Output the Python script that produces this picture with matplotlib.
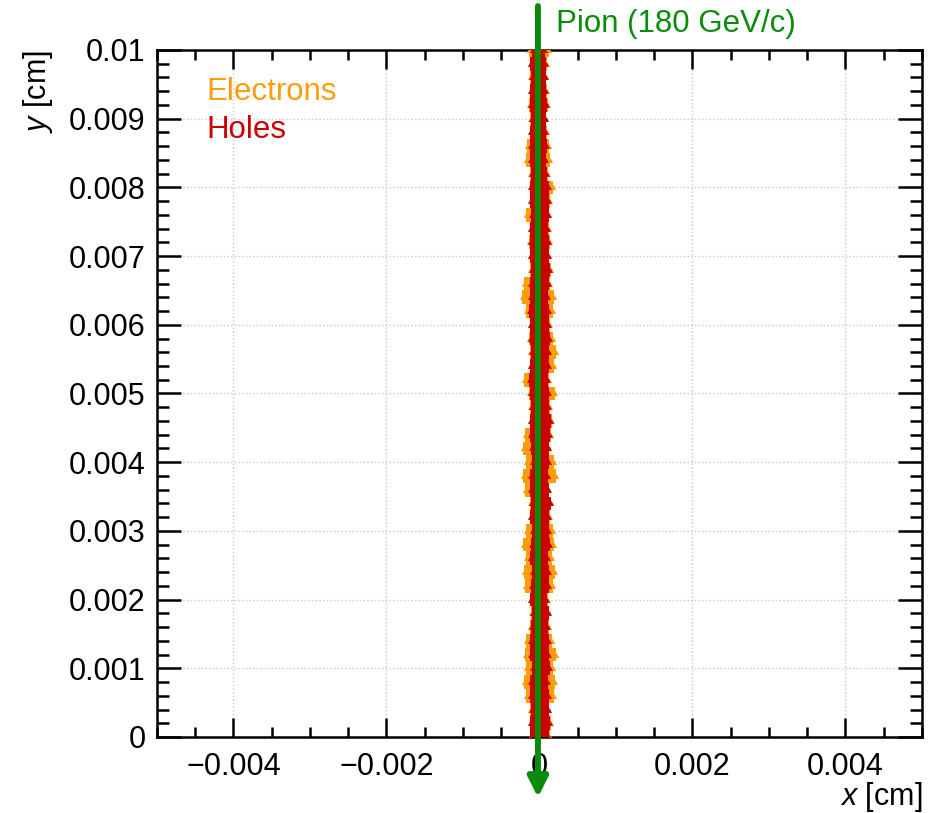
import matplotlib
matplotlib.use('Agg')
import matplotlib.pyplot as plt
import numpy as np
from matplotlib.patches import FancyArrowPatch
from matplotlib.ticker import MultipleLocator, FuncFormatter

plt.rcParams['font.family'] = ['Liberation Sans', 'DejaVu Sans']
plt.rcParams['mathtext.fontset'] = 'custom'
plt.rcParams['mathtext.it'] = 'Liberation Sans:italic'
plt.rcParams['mathtext.rm'] = 'Liberation Sans'

# depth along the track (um) and lateral extent of the charge clouds (um)
depth_um = np.arange(0, 101, 2)
holes_left = [-1.2, -1.3, -1.1, -1.2, -1.3, -1.0, -1.2, -1.3, -1.1, -1.0, -1.2, -1.1, -1.0,
              -1.2, -1.1, -1.0, -1.2, -1.1, -1.3, -1.2, -1.0, -1.1, -1.3, -1.2, -1.1, -1.3,
              -1.4, -1.2, -1.1, -1.3, -1.2, -1.4, -1.3, -1.2, -1.1, -1.2, -1.3, -1.2, -1.1,
              -1.3, -1.2, -1.1, -1.2, -1.3, -1.2, -1.1, -1.3, -1.2, -1.1, -1.2, -1.0]
holes_right = [1.3, 1.4, 1.2, 1.3, 1.1, 1.4, 1.2, 1.3, 1.1, 1.2, 1.0, 1.2, 1.3,
               1.1, 1.4, 1.2, 1.3, 1.5, 1.2, 1.1, 1.3, 1.2, 1.4, 1.5, 1.3, 1.2,
               1.1, 1.3, 1.2, 1.4, 1.3, 1.2, 1.1, 1.3, 1.4, 1.2, 1.3, 1.1, 1.2,
               1.3, 1.2, 1.0, 0.9, 1.0, 0.9, 0.8, 1.0, 0.9, 0.8, 0.9, 0.7]
electrons_left = [-1.3, -1.3, -1.2, -1.8, -2.0, -1.7, -1.9, -1.8, -1.2, -1.1, -1.3, -1.9, -2.0,
                  -1.8, -2.1, -1.7, -1.3, -1.2, -1.9, -2.1, -1.8, -2.2, -1.9, -1.3, -1.2, -1.4,
                  -2.0, -1.3, -1.2, -1.4, -1.3, -1.8, -2.3, -2.0, -1.2, -1.3, -1.4, -1.3, -1.8,
                  -1.3, -1.2, -1.2, -1.7, -1.6, -1.3, -1.2, -1.4, -1.3, -1.2, -1.3, -1.4]
electrons_right = [1.4, 1.5, 1.3, 1.9, 2.0, 1.8, 2.1, 1.7, 1.2, 1.3, 1.1, 1.8, 2.0,
                   1.7, 1.9, 1.8, 1.4, 1.5, 1.3, 2.1, 1.9, 1.3, 1.5, 1.6, 1.4, 2.0,
                   1.3, 1.9, 2.2, 1.8, 1.4, 1.8, 1.9, 1.4, 1.5, 1.3, 1.4, 1.2, 1.3,
                   1.4, 1.8, 1.1, 1.4, 1.3, 1.0, 0.9, 1.1, 1.0, 0.9, 1.0, 1.3]

track_x = -0.00002
track_label = 'Pion (180 GeV/c)'

um = 1e-4  # cm
y = depth_um * um

c_el = '#ff9c0a'
c_ho = '#cc0000'
c_pi = '#0a8c0a'
fs = 22

fig = plt.figure(figsize=(9.41, 8.13), dpi=100)
ax = fig.add_axes([0.1668, 0.0935, 0.813, 0.845])

ax.fill_betweenx(y, np.array(electrons_left) * um, np.array(electrons_right) * um,
                 step='mid', color=c_el, lw=0, zorder=3)
ax.scatter(np.array(electrons_left) * um, y, marker='^', s=14, color=c_el, lw=0, zorder=3)
ax.scatter(np.array(electrons_right) * um, y, marker='^', s=14, color=c_el, lw=0, zorder=3)
ax.fill_betweenx(y, np.array(holes_left) * um, np.array(holes_right) * um,
                 step='mid', color=c_ho, lw=0, zorder=4)
ax.scatter(np.array(holes_left) * um, y, marker='^', s=12, color=c_ho, lw=0, zorder=4)
ax.scatter(np.array(holes_right) * um, y, marker='^', s=12, color=c_ho, lw=0, zorder=4)

arrow = FancyArrowPatch((track_x, 0.01064), (track_x, -0.00088),
                        arrowstyle='-|>,head_length=1.0,head_width=0.5',
                        mutation_scale=12, lw=4.3, color=c_pi,
                        shrinkA=0, shrinkB=0, clip_on=False, zorder=6)
ax.add_patch(arrow)
ax.text(0.000216, 0.01038, track_label, color=c_pi, fontsize=fs + 0.5, va='center',
        ha='left', clip_on=False)

ax.text(-0.00435, 0.00939, 'Electrons', color=c_el, fontsize=fs + 0.5, va='center')
ax.text(-0.00435, 0.00884, 'Holes', color=c_ho, fontsize=fs + 0.5, va='center')

ax.set_xlim(-0.005, 0.005)
ax.set_ylim(0, 0.01)

ax.xaxis.set_major_locator(MultipleLocator(0.002))
ax.xaxis.set_minor_locator(MultipleLocator(0.0005))
ax.yaxis.set_major_locator(MultipleLocator(0.001))
ax.yaxis.set_minor_locator(MultipleLocator(0.0002))


def fmt(v, pos):
    if abs(v) < 1e-12:
        return '0'
    s = ('%.3f' % v).rstrip('0')
    return s.replace('-', '\u2212')


ax.xaxis.set_major_formatter(FuncFormatter(fmt))
ax.yaxis.set_major_formatter(FuncFormatter(fmt))

ax.tick_params(which='both', direction='in', top=True, right=True, width=1.8,
               labelsize=fs, color='black')
ax.tick_params(axis='x', which='major', length=13.5, pad=11)
ax.tick_params(axis='x', which='minor', length=7)
ax.tick_params(axis='y', which='major', length=17, pad=8)
ax.tick_params(axis='y', which='minor', length=8.5)
for sp in ax.spines.values():
    sp.set_linewidth(1.8)

ax.grid(True, which='major', linestyle=':', color='#c8c8c8', lw=1.0)
ax.set_axisbelow(True)

ax.set_xlabel(r'$x$ [cm]', fontsize=fs, loc='right')
ax.set_ylabel(r'$y$ [cm]', fontsize=fs, loc='top')
ax.xaxis.set_label_coords(1.0, -0.062)
ax.yaxis.set_label_coords(-0.133, 1.0)

fig.savefig('out.png', dpi=100)
